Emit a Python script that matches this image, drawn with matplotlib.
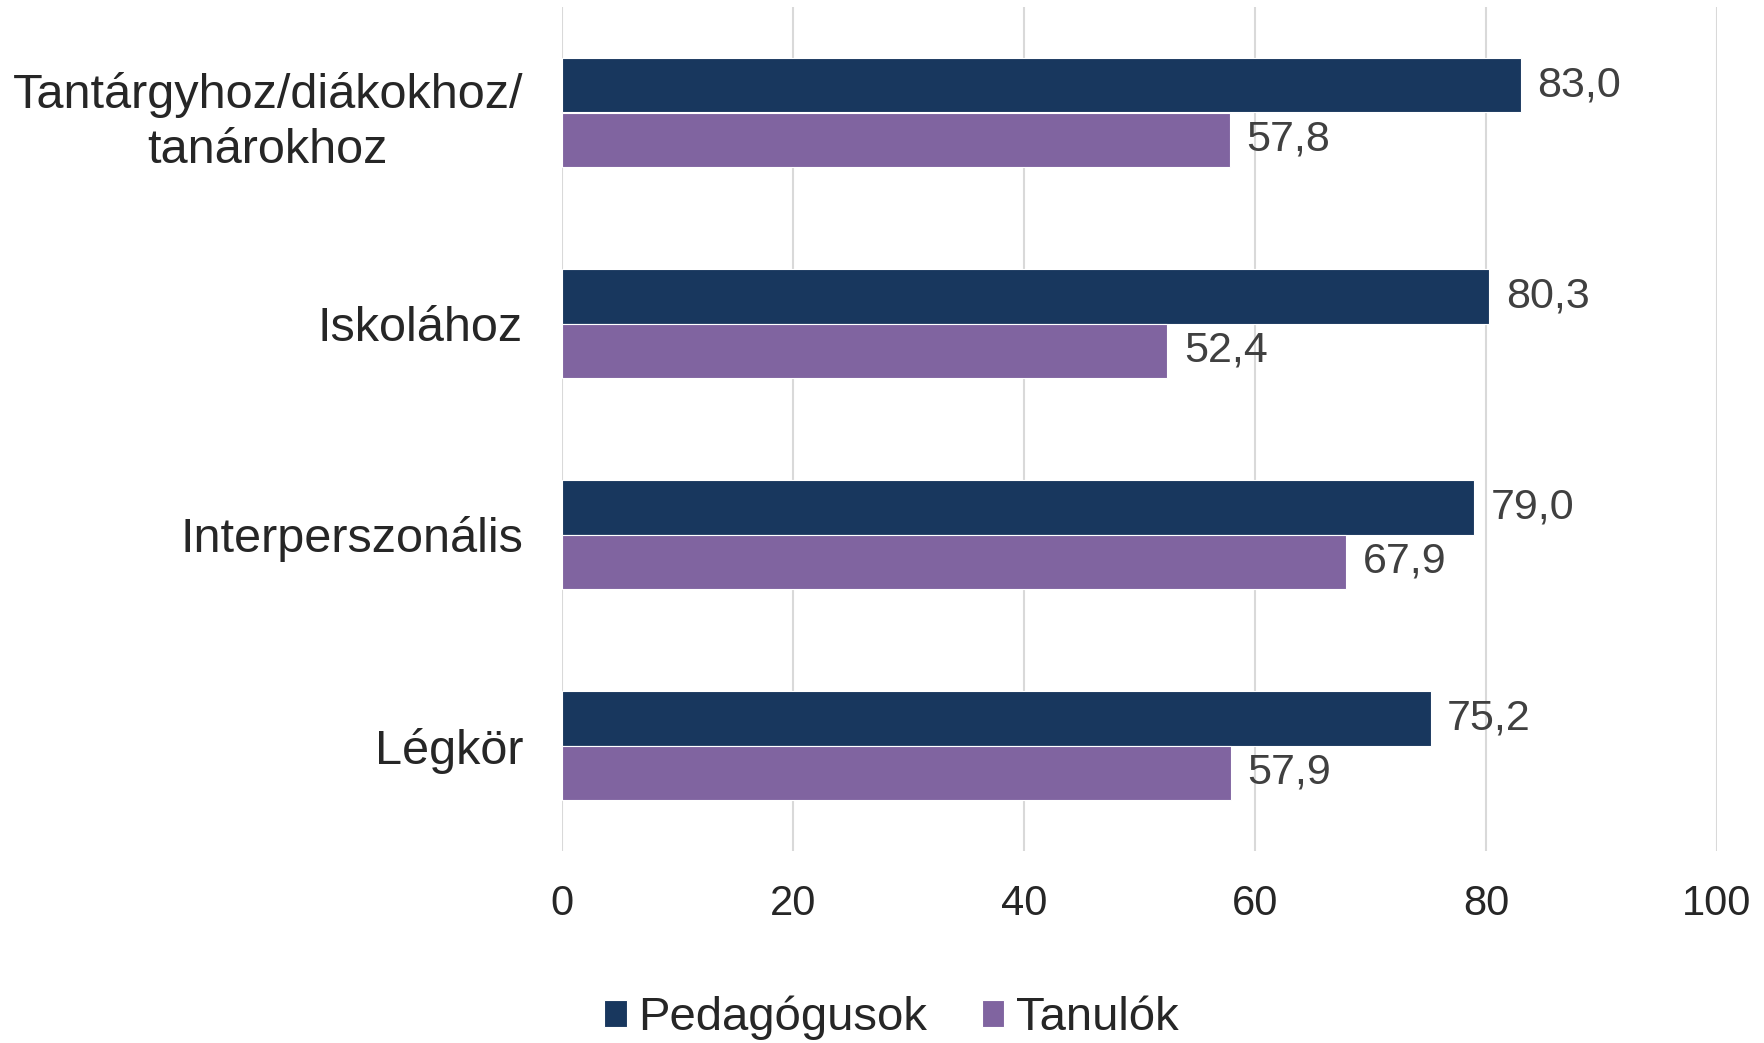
import numpy as np
import matplotlib.pyplot as plt

plt.rcParams['font.family'] = ['Liberation Sans', 'DejaVu Sans']

categories = ['Tantárgyhoz/diákokhoz/\ntanárokhoz', 'Iskolához', 'Interperszonális', 'Légkör']
pedagogusok = [83.0, 80.3, 79.0, 75.2]
tanulok = [57.8, 52.4, 67.9, 57.9]
series_names = ['Pedagógusok', 'Tanulók']
colors = ['#18375E', '#8064A0']
xticks = [0, 20, 40, 60, 80, 100]

fig = plt.figure(figsize=(17.65, 10.43), dpi=100)
ax = fig.add_axes([562/1765, 1-851/1043, (1717-562)/1765, (851-7)/1043])

y = np.arange(len(categories))
h = 0.26
b1 = ax.barh(y - h/2, pedagogusok, height=h, color=colors[0], edgecolor='white', linewidth=0.8, label=series_names[0])
b2 = ax.barh(y + h/2, tanulok, height=h, color=colors[1], edgecolor='white', linewidth=0.8, label=series_names[1])

for bars in (b1, b2):
    for r in bars:
        v = r.get_width()
        ax.annotate(f'{v:.1f}'.replace('.', ','), (v, r.get_y() + r.get_height()/2),
                    xytext=(12, 0), textcoords='offset points', va='center', ha='left',
                    fontsize=31, color='#404040')

ax.set_ylim(3.5, -0.5)
ax.set_xlim(0, 100)
ax.set_xticks(xticks)
ax.set_xticklabels([str(t) for t in xticks], fontsize=30, color='#262626')
ax.set_yticks(y)
ax.set_yticklabels(categories, fontsize=35, color='#262626')
for lab in ax.get_yticklabels():
    lab.set_multialignment('center')
    lab.set_linespacing(1.28)
ax.tick_params(axis='x', length=0, pad=24)
ax.tick_params(axis='y', length=0, pad=28)

ax.grid(axis='x', color='#d9d9d9', linewidth=1.5)
ax.set_axisbelow(True)
for s in ax.spines.values():
    s.set_visible(False)

fig.legend(loc='center', bbox_to_anchor=(0.505, 1-1018/1043), ncol=2, frameon=False,
           fontsize=34, handlelength=0.48, handleheight=0.48, handletextpad=0.25,
           columnspacing=1.15, labelcolor='#262626')

fig.savefig('out.png', dpi=100)
